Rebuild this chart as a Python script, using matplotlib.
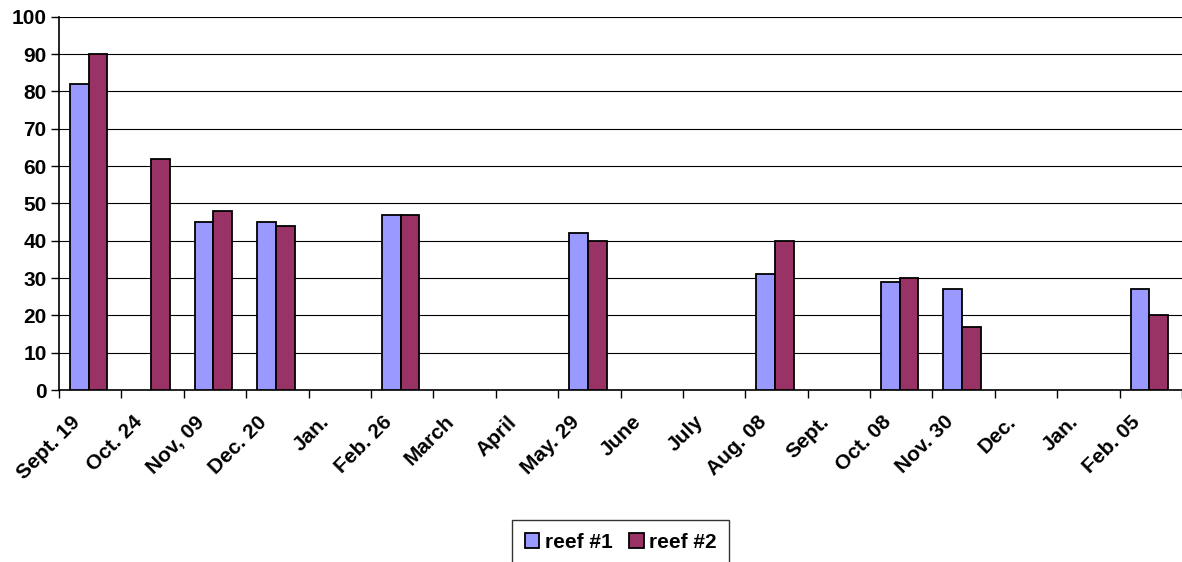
import numpy as np
import matplotlib.pyplot as plt
import matplotlib.transforms as mtransforms
from matplotlib.ticker import FixedLocator

plt.rcParams['font.family'] = ['Liberation Sans', 'DejaVu Sans']
plt.rcParams['font.weight'] = 'bold'

# Data
dates = ['Sept. 19', 'Oct. 24', 'Nov, 09', 'Dec. 20', 'Jan.', 'Feb. 26', 'March',
         'April', 'May. 29', 'June', 'July', 'Aug. 08', 'Sept.', 'Oct. 08',
         'Nov. 30', 'Dec.', 'Jan.', 'Feb. 05']
reef1 = [82, np.nan, 45, 45, np.nan, 47, np.nan, np.nan, 42, np.nan, np.nan,
         31, np.nan, 29, 27, np.nan, np.nan, 27]
reef2 = [90, 62, 48, 44, np.nan, 47, np.nan, np.nan, 40, np.nan, np.nan,
         40, np.nan, 30, 17, np.nan, np.nan, 20]

c1 = '#9999ff'
c2 = '#993366'

fig = plt.figure(figsize=(11.82, 5.62), dpi=100)
ax = fig.add_axes([0.05, 0.306, 0.95, 0.664])

x = np.arange(len(dates))
w = 0.3
off = -0.025
ax.bar(x + off - w / 2, reef1, w, color=c1, edgecolor='black', linewidth=1.3, label='reef #1', zorder=3)
ax.bar(x + off + w / 2, reef2, w, color=c2, edgecolor='black', linewidth=1.3, label='reef #2', zorder=3)

ax.set_xlim(-0.5, len(dates) - 0.5)
ax.set_ylim(0, 100)
ax.set_yticks(np.arange(0, 101, 10))
ax.yaxis.grid(True, color='black', linewidth=0.8, zorder=0)
ax.tick_params(axis='y', labelsize=15, length=6, width=1, direction='out', pad=3)

# category boundaries carry the ticks, labels sit in the middle
ax.set_xticks(x)
ax.set_xticklabels(dates, rotation=45, ha='right', rotation_mode='anchor', fontsize=15)
ax.tick_params(axis='x', which='major', length=0, pad=16)
shift = mtransforms.ScaledTranslation(-20 / 100, 0, fig.dpi_scale_trans)
for lab in ax.get_xticklabels():
    lab.set_transform(lab.get_transform() + shift)
ax.xaxis.set_minor_locator(FixedLocator(np.arange(-0.5, len(dates), 1)))
ax.tick_params(axis='x', which='minor', length=6, width=1, direction='out')

for side in ['top', 'right']:
    ax.spines[side].set_visible(False)
for side in ['left', 'bottom']:
    ax.spines[side].set_linewidth(1.2)

leg = fig.legend(loc='center', bbox_to_anchor=(0.525, 0.035), ncol=2,
                 frameon=True, fancybox=False, edgecolor='black', fontsize=15,
                 handlelength=0.7, handleheight=0.7, handletextpad=0.25,
                 columnspacing=0.8, borderpad=0.6)
leg.get_frame().set_linewidth(1.0)

fig.savefig('out.png', dpi=100)
